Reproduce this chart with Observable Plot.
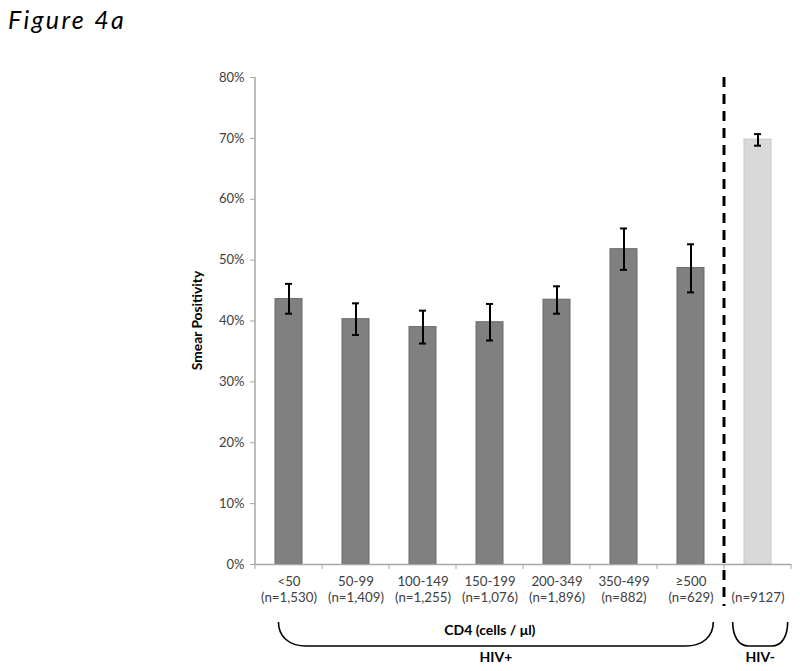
<!DOCTYPE html>
<html><head><meta charset="utf-8">
<script src="https://cdn.jsdelivr.net/npm/d3@7"></script>
<script src="https://cdn.jsdelivr.net/npm/@observablehq/plot@0.6"></script>
<style>
body{margin:0;background:#fff;}
#chart svg{display:block;}
</style></head><body>
<div id="chart"></div>
<script>
// ---- data ----
const categories = ["<50","50-99","100-149","150-199","200-349","350-499","≥500","HIV-"];
const tickTop = ["<50","50-99","100-149","150-199","200-349","350-499","≥500",""];
const nLabels = ["(n=1,530)","(n=1,409)","(n=1,255)","(n=1,076)","(n=1,896)","(n=882)","(n=629)","(n=9127)"];
const groups = ["HIV+","HIV+","HIV+","HIV+","HIV+","HIV+","HIV+","HIV-"];
const values = [0.436,0.403,0.390,0.398,0.435,0.518,0.487,0.698];
const errLow = [0.412,0.377,0.363,0.368,0.412,0.484,0.447,0.688];
const errHigh = [0.461,0.429,0.417,0.428,0.457,0.552,0.526,0.707];
const yTicks = [0,0.1,0.2,0.3,0.4,0.5,0.6,0.7,0.8];
const groupNames = ["HIV+","HIV-"];
const xTitle = "CD4 (cells / μl)";
const yTitle = "Smear Positivity";
const figTitle = "Figure 4a";

const data = categories.map((c,i)=>({cat:c, value:values[i], lo:errLow[i], hi:errHigh[i], group:groups[i]}));
const FONT = "Lato, 'Liberation Sans', sans-serif";

const plot = Plot.plot({
  width: 800, height: 671,
  marginLeft: 255, marginRight: 9, marginTop: 77, marginBottom: 107,
  style: {fontFamily: FONT, fontSize: "13px", color: "#404040", background: "white", overflow: "visible"},
  x: {domain: categories, paddingInner: 0.6, paddingOuter: 0.3},
  y: {domain: [0, 0.8]},
  marks: [
    Plot.axisY({ticks: yTicks, tickFormat: d3.format(".0%"), tickSize: 5, tickPadding: 6, stroke: "#a6a6a6", fill: "#404040", label: null, fontSize: 13}),
    Plot.axisX({tickSize: 0, tickPadding: 10, lineHeight: 1.23, fill: "#404040", label: null, fontSize: 13.3,
      tickFormat: d => { const i = categories.indexOf(d); return tickTop[i] + "\n" + nLabels[i]; }}),
    Plot.barY(data, {filter: d => d.group === "HIV+", x: "cat", y: "value", fill: "#808080", stroke: "#6a6a6a", strokeWidth: 1}),
    Plot.barY(data, {filter: d => d.group === "HIV-", x: "cat", y: "value", fill: "#d9d9d9", stroke: "#c6c6c6", strokeWidth: 1}),
    Plot.ruleY([0], {stroke: "#a6a6a6", strokeWidth: 1.5}),
    Plot.ruleX(data, {x: "cat", y1: "lo", y2: "hi", stroke: "#000", strokeWidth: 2}),
    Plot.tickY(data, {x: "cat", y: "hi", stroke: "#000", strokeWidth: 2, insetLeft: 10, insetRight: 10}),
    Plot.tickY(data, {x: "cat", y: "lo", stroke: "#000", strokeWidth: 2, insetLeft: 10, insetRight: 10})
  ]
});
document.getElementById("chart").appendChild(plot);

// ---- extra annotations derived from the plot's own scales ----
const xs = plot.scale("x"), ys = plot.scale("y");
const X = v => xs.apply(v), Y = v => ys.apply(v);
const bw = xs.bandwidth, step = xs.step, gap = (step - bw) / 2;
const svg = d3.select(plot);
const y0 = Y(0), yTop = Y(0.8);

// y axis line
svg.append("line").attr("x1", xs.range[0]).attr("x2", xs.range[0]).attr("y1", yTop).attr("y2", y0)
  .attr("stroke", "#a6a6a6").attr("stroke-width", 1.5);
// category boundary ticks on x axis
const bounds = categories.map(c => X(c) - gap).concat([X(categories[categories.length-1]) + bw + gap]);
svg.append("g").selectAll("line").data(bounds).join("line")
  .attr("x1", d => d).attr("x2", d => d).attr("y1", y0).attr("y2", y0 + 5)
  .attr("stroke", "#a6a6a6").attr("stroke-width", 1);
// dashed separator between groups
const lastPos = groups.lastIndexOf("HIV+");
const sepX = (X(categories[lastPos]) + bw + X(categories[lastPos+1])) / 2;
svg.append("line").attr("x1", sepX).attr("x2", sepX).attr("y1", yTop).attr("y2", y0 + 42)
  .attr("stroke", "#000").attr("stroke-width", 3).attr("stroke-dasharray", "10,7");

// y title
svg.append("text").attr("transform", `translate(198,${(yTop + y0) / 2}) rotate(-90)`)
  .attr("text-anchor", "middle").attr("dominant-baseline", "middle")
  .attr("font-family", FONT).attr("font-weight", "bold").attr("font-size", 13.8).attr("fill", "#000").text(yTitle);

// figure title
svg.append("text").attr("x", 8).attr("y", 29).attr("text-anchor", "start").attr("font-family", FONT).attr("font-style", "italic")
  .attr("font-size", 25).attr("letter-spacing", 2.3).attr("fill", "#000").text(figTitle);

// braces
const braceTop = y0 + 58, braceBot = y0 + 82;
groupNames.forEach((g, gi) => {
  const idx = groups.map((v,i)=>v===g?i:-1).filter(i=>i>=0);
  const first = categories[idx[0]], last = categories[idx[idx.length-1]];
  const left = gi === 0 ? X(first) + bw / 2 - 0.15 * step : X(first) + bw / 2 - 0.37 * step;
  const right = gi === 0 ? X(last) + bw / 2 + 0.34 * step : X(last) + bw / 2 + 0.45 * step;
  const r = gi === 0 ? 28 : 16;
  const path = `M${left},${braceTop} C${left},${braceTop + 14} ${left + r * 0.35},${braceBot} ${left + r},${braceBot} L${right - r},${braceBot} C${right - r * 0.35},${braceBot} ${right},${braceTop + 14} ${right},${braceTop}`;
  svg.append("path").attr("d", path).attr("fill", "none").attr("stroke", "#000").attr("stroke-width", 1.6);
  svg.append("text").attr("x", (left + right) / 2).attr("y", braceBot + 12).attr("text-anchor", "middle")
    .attr("dominant-baseline", "middle").attr("font-family", FONT).attr("font-weight", "bold")
    .attr("font-size", 14).attr("fill", "#000").text(g);
  if (gi === 0) {
    svg.append("text").attr("x", (left + right) / 2 - 6).attr("y", braceTop + 9).attr("text-anchor", "middle")
      .attr("dominant-baseline", "middle").attr("font-family", FONT).attr("font-weight", "bold")
      .attr("font-size", 14).attr("fill", "#000").text(xTitle);
  }
});
</script>
</body></html>
